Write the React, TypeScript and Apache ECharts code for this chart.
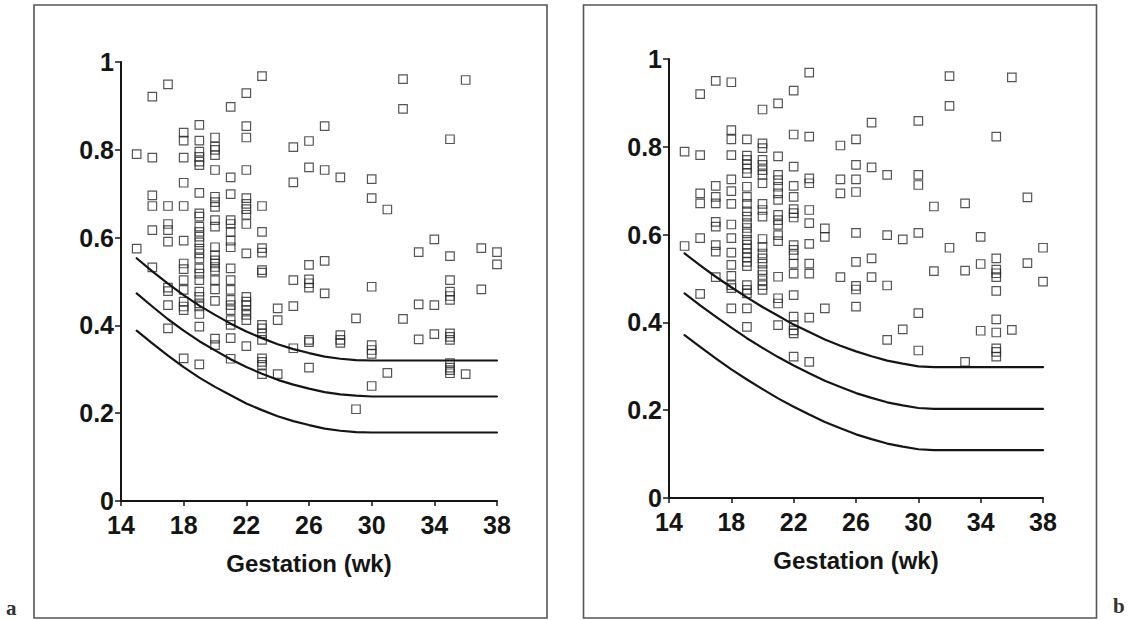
import React, { useEffect, useRef } from 'react';
import * as echarts from 'echarts';

// ---------- Panel a ----------
const scatterA: [number, number][] = [
  [15, 0.79], [15, 0.575],
  [16, 0.921], [16, 0.782], [16, 0.696], [16, 0.672], [16, 0.617], [16, 0.532],
  [17, 0.949], [17, 0.672], [17, 0.631], [17, 0.617], [17, 0.591], [17, 0.486], [17, 0.478], [17, 0.446], [17, 0.393],
  [18, 0.839], [18, 0.821], [18, 0.782], [18, 0.725], [18, 0.672], [18, 0.593], [18, 0.541], [18, 0.528], [18, 0.503], [18, 0.481], [18, 0.454], [18, 0.443], [18, 0.435], [18, 0.325],
  [19, 0.857], [19, 0.821], [19, 0.796], [19, 0.784], [19, 0.773], [19, 0.765], [19, 0.702], [19, 0.655], [19, 0.648], [19, 0.625], [19, 0.613], [19, 0.602], [19, 0.589], [19, 0.575], [19, 0.564], [19, 0.552], [19, 0.53], [19, 0.518], [19, 0.503], [19, 0.477], [19, 0.465], [19, 0.45], [19, 0.443], [19, 0.426], [19, 0.397], [19, 0.311],
  [20, 0.828], [20, 0.807], [20, 0.8], [20, 0.788], [20, 0.754], [20, 0.693], [20, 0.681], [20, 0.67], [20, 0.64], [20, 0.625], [20, 0.578], [20, 0.56], [20, 0.548], [20, 0.541], [20, 0.533], [20, 0.525], [20, 0.503], [20, 0.482], [20, 0.456], [20, 0.37], [20, 0.355],
  [21, 0.898], [21, 0.737], [21, 0.699], [21, 0.64], [21, 0.631], [21, 0.613], [21, 0.593], [21, 0.578], [21, 0.53], [21, 0.503], [21, 0.481], [21, 0.458], [21, 0.446], [21, 0.435], [21, 0.412], [21, 0.401], [21, 0.371], [21, 0.324],
  [22, 0.929], [22, 0.854], [22, 0.828], [22, 0.754], [22, 0.69], [22, 0.677], [22, 0.665], [22, 0.652], [22, 0.631], [22, 0.564], [22, 0.465], [22, 0.454], [22, 0.446], [22, 0.435], [22, 0.424], [22, 0.412], [22, 0.353],
  [23, 0.968], [23, 0.672], [23, 0.613], [23, 0.576], [23, 0.566], [23, 0.526], [23, 0.52], [23, 0.401], [23, 0.393], [23, 0.382], [23, 0.367], [23, 0.325], [23, 0.317], [23, 0.31], [23, 0.289],
  [24, 0.439], [24, 0.412], [24, 0.289],
  [25, 0.806], [25, 0.726], [25, 0.503], [25, 0.444], [25, 0.348],
  [26, 0.82], [26, 0.76], [26, 0.538], [26, 0.505], [26, 0.496], [26, 0.486], [26, 0.367], [26, 0.362], [26, 0.304],
  [27, 0.854], [27, 0.754], [27, 0.547], [27, 0.473],
  [28, 0.737], [28, 0.378], [28, 0.367], [28, 0.36],
  [29, 0.416], [29, 0.209],
  [30, 0.733], [30, 0.69], [30, 0.488], [30, 0.355], [30, 0.344], [30, 0.335], [30, 0.262],
  [31, 0.664], [31, 0.292],
  [32, 0.961], [32, 0.893], [32, 0.415],
  [33, 0.567], [33, 0.448], [33, 0.368],
  [34, 0.596], [34, 0.446], [34, 0.38],
  [35, 0.824], [35, 0.558], [35, 0.503], [35, 0.477], [35, 0.467], [35, 0.458], [35, 0.382], [35, 0.374], [35, 0.367], [35, 0.314], [35, 0.304], [35, 0.298], [35, 0.291],
  [36, 0.959], [36, 0.289],
  [37, 0.576], [37, 0.482],
  [38, 0.567], [38, 0.539],
];

const curveWeeksA = [15, 16, 17, 18, 19, 20, 21, 22, 23, 24, 25, 26, 27, 28, 29, 30, 38];
const upperA = [0.553, 0.523, 0.495, 0.469, 0.445, 0.424, 0.404, 0.386, 0.371, 0.357, 0.346, 0.337, 0.329, 0.324, 0.321, 0.32, 0.32];
const middleA = [0.473, 0.443, 0.414, 0.388, 0.364, 0.343, 0.323, 0.305, 0.29, 0.276, 0.265, 0.256, 0.248, 0.243, 0.24, 0.238, 0.238];
const lowerA = [0.388, 0.359, 0.331, 0.305, 0.281, 0.26, 0.241, 0.222, 0.207, 0.193, 0.182, 0.173, 0.165, 0.16, 0.157, 0.156, 0.156];

// ---------- Panel b ----------
const scatterB: [number, number][] = [
  [15, 0.789], [15, 0.574],
  [16, 0.92], [16, 0.781], [16, 0.694], [16, 0.671], [16, 0.592], [16, 0.465],
  [17, 0.95], [17, 0.711], [17, 0.686], [17, 0.671], [17, 0.629], [17, 0.618], [17, 0.576], [17, 0.561], [17, 0.503],
  [18, 0.947], [18, 0.838], [18, 0.817], [18, 0.781], [18, 0.726], [18, 0.699], [18, 0.67], [18, 0.623], [18, 0.592], [18, 0.559], [18, 0.531], [18, 0.506], [18, 0.485], [18, 0.478], [18, 0.432],
  [19, 0.817], [19, 0.78], [19, 0.77], [19, 0.76], [19, 0.75], [19, 0.74], [19, 0.709], [19, 0.686], [19, 0.67], [19, 0.653], [19, 0.641], [19, 0.626], [19, 0.615], [19, 0.603], [19, 0.588], [19, 0.577], [19, 0.568], [19, 0.558], [19, 0.548], [19, 0.538], [19, 0.528], [19, 0.485], [19, 0.474], [19, 0.466], [19, 0.432], [19, 0.39],
  [20, 0.885], [20, 0.808], [20, 0.797], [20, 0.77], [20, 0.759], [20, 0.747], [20, 0.736], [20, 0.717], [20, 0.67], [20, 0.656], [20, 0.641], [20, 0.59], [20, 0.572], [20, 0.557], [20, 0.546], [20, 0.534], [20, 0.519], [20, 0.508], [20, 0.496], [20, 0.485], [20, 0.474],
  [21, 0.899], [21, 0.778], [21, 0.736], [21, 0.724], [21, 0.709], [21, 0.694], [21, 0.679], [21, 0.645], [21, 0.633], [21, 0.622], [21, 0.599], [21, 0.585], [21, 0.504], [21, 0.455], [21, 0.443], [21, 0.394],
  [22, 0.928], [22, 0.828], [22, 0.755], [22, 0.711], [22, 0.686], [22, 0.658], [22, 0.649], [22, 0.639], [22, 0.576], [22, 0.565], [22, 0.553], [22, 0.534], [22, 0.511], [22, 0.462], [22, 0.413], [22, 0.394], [22, 0.382], [22, 0.375], [22, 0.322],
  [23, 0.969], [23, 0.823], [23, 0.728], [23, 0.717], [23, 0.656], [23, 0.626], [23, 0.579], [23, 0.534], [23, 0.511], [23, 0.411], [23, 0.31],
  [24, 0.614], [24, 0.595], [24, 0.432],
  [25, 0.803], [25, 0.726], [25, 0.694], [25, 0.503],
  [26, 0.817], [26, 0.759], [26, 0.726], [26, 0.697], [26, 0.604], [26, 0.538], [26, 0.483], [26, 0.475], [26, 0.436],
  [27, 0.855], [27, 0.753], [27, 0.546], [27, 0.503],
  [28, 0.736], [28, 0.599], [28, 0.484], [28, 0.36],
  [29, 0.589], [29, 0.384],
  [30, 0.859], [30, 0.736], [30, 0.713], [30, 0.604], [30, 0.421], [30, 0.336],
  [31, 0.664], [31, 0.517],
  [32, 0.961], [32, 0.893], [32, 0.57],
  [33, 0.671], [33, 0.518], [33, 0.31],
  [34, 0.595], [34, 0.533], [34, 0.381],
  [35, 0.823], [35, 0.546], [35, 0.52], [35, 0.512], [35, 0.503], [35, 0.472], [35, 0.407], [35, 0.377], [35, 0.341], [35, 0.333], [35, 0.322],
  [36, 0.958], [36, 0.383],
  [37, 0.685], [37, 0.535],
  [38, 0.57], [38, 0.493],
];

const curveWeeksB = [15, 16, 17, 18, 19, 20, 21, 22, 23, 24, 25, 26, 27, 28, 29, 30, 31, 38];
const upperB = [0.557, 0.53, 0.504, 0.48, 0.457, 0.435, 0.415, 0.395, 0.378, 0.361, 0.347, 0.334, 0.323, 0.313, 0.306, 0.3, 0.298, 0.298];
const middleB = [0.466, 0.439, 0.413, 0.388, 0.364, 0.342, 0.321, 0.302, 0.284, 0.267, 0.253, 0.239, 0.228, 0.218, 0.211, 0.205, 0.203, 0.203];
const lowerB = [0.371, 0.344, 0.318, 0.293, 0.27, 0.248, 0.227, 0.208, 0.19, 0.173, 0.159, 0.145, 0.134, 0.124, 0.117, 0.111, 0.109, 0.109];

const xTicks = [14, 18, 22, 26, 30, 34, 38];
const yTicks = [0, 0.2, 0.4, 0.6, 0.8, 1];
const xAxisTitle = 'Gestation (wk)';

const FONT = '"Liberation Sans", Arial, Helvetica, sans-serif';
const INK = '#151515';

function zip(xs: number[], ys: number[]) {
  return xs.map((x, i) => [x, ys[i]]);
}

function makeX(gridIndex: number) {
  return {
    type: 'value',
    gridIndex,
    min: xTicks[0],
    max: xTicks[xTicks.length - 1],
    interval: xTicks[1] - xTicks[0],
    axisLine: { show: true, onZero: false, lineStyle: { color: INK, width: 2 } },
    axisTick: { show: true, inside: false, length: 5, lineStyle: { color: INK, width: 1.5 } },
    axisLabel: { fontSize: 25, fontWeight: 'bold', color: INK, fontFamily: FONT, margin: 11 },
    splitLine: { show: false },
    name: xAxisTitle,
    nameLocation: 'middle',
    nameGap: 50,
    nameTextStyle: { fontSize: 24, fontWeight: 'bold', color: INK, fontFamily: FONT },
  };
}

function makeY(gridIndex: number) {
  return {
    type: 'value',
    gridIndex,
    min: yTicks[0],
    max: yTicks[yTicks.length - 1],
    interval: 0.2,
    axisLine: { show: true, onZero: false, lineStyle: { color: INK, width: 2 } },
    axisTick: { show: true, inside: false, length: 6, lineStyle: { color: INK, width: 1.5 } },
    axisLabel: {
      fontSize: 25,
      fontWeight: 'bold',
      color: INK,
      fontFamily: FONT,
      margin: 7,
      formatter: (v: number) => (v === 0 ? '0' : v === 1 ? '1' : v.toFixed(1)),
    },
    splitLine: { show: false },
  };
}

function scatterSeries(data: [number, number][], idx: number) {
  return {
    type: 'scatter',
    xAxisIndex: idx,
    yAxisIndex: idx,
    data,
    symbol: 'rect',
    symbolSize: 8.5,
    itemStyle: { color: 'rgba(0,0,0,0)', borderColor: '#2a2a2a', borderWidth: 1.2 },
    silent: true,
  };
}

function curveSeries(xs: number[], ys: number[], idx: number) {
  return {
    type: 'line',
    xAxisIndex: idx,
    yAxisIndex: idx,
    data: zip(xs, ys),
    showSymbol: false,
    smooth: false,
    lineStyle: { color: INK, width: 2.2, join: 'round', cap: 'round' },
    silent: true,
  };
}

const option = {
  animation: false,
  backgroundColor: '#ffffff',
  grid: [
    { left: 121, top: 62, width: 376, height: 439 },
    { left: 669, top: 59, width: 374, height: 439 },
  ],
  xAxis: [makeX(0), makeX(1)],
  yAxis: [makeY(0), makeY(1)],
  series: [
    curveSeries(curveWeeksA, upperA, 0),
    curveSeries(curveWeeksA, middleA, 0),
    curveSeries(curveWeeksA, lowerA, 0),
    scatterSeries(scatterA, 0),
    curveSeries(curveWeeksB, upperB, 1),
    curveSeries(curveWeeksB, middleB, 1),
    curveSeries(curveWeeksB, lowerB, 1),
    scatterSeries(scatterB, 1),
  ],
  graphic: [
    { type: 'rect', shape: { x: 34, y: 5, width: 513, height: 613 }, style: { fill: 'none', stroke: '#555', lineWidth: 1.6 }, silent: true },
    { type: 'rect', shape: { x: 583.5, y: 5, width: 513, height: 613 }, style: { fill: 'none', stroke: '#555', lineWidth: 1.6 }, silent: true },
    { type: 'text', left: 6, top: 597, style: { text: 'a', fontSize: 21, fontWeight: 'bold', fontFamily: '"Liberation Serif", "DejaVu Serif", serif', fill: '#333' } },
    { type: 'text', left: 1113, top: 595, style: { text: 'b', fontSize: 21, fontWeight: 'bold', fontFamily: '"Liberation Serif", "DejaVu Serif", serif', fill: '#333' } },
  ],
};

export default function App() {
  const ref = useRef<HTMLDivElement>(null);
  useEffect(() => {
    if (!ref.current) return;
    const chart = echarts.init(ref.current, null, { renderer: 'svg' });
    chart.setOption(option as any);
    return () => chart.dispose();
  }, []);
  return (
    <div
      ref={ref}
      style={{ position: 'fixed', left: 0, top: 0, width: 1131, height: 620, background: '#fff' }}
    />
  );
}
